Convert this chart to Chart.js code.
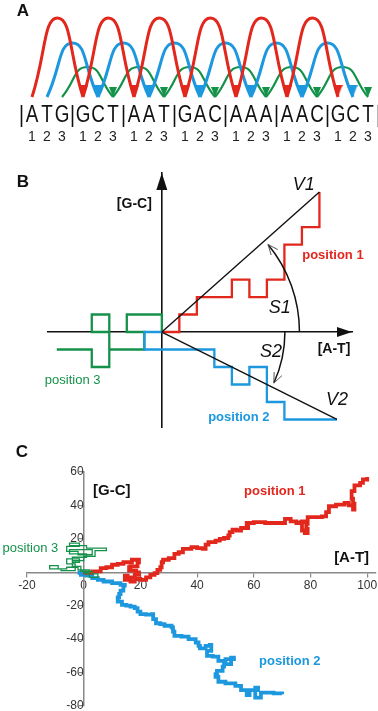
<!DOCTYPE html>
<html>
<head>
<meta charset="utf-8">
<script src="https://cdn.jsdelivr.net/npm/chart.js@4.4.1/dist/chart.umd.min.js"></script>
<style>
  html, body { margin: 0; padding: 0; background: #fff; }
  body { width: 378px; height: 711px; position: relative; overflow: hidden; }
  canvas { position: absolute; left: 0; }
  #chartA { top: 0; }
  #chartB { top: 170px; }
  #chartC { top: 430px; }
</style>
</head>
<body>
<canvas id="chartA" width="378" height="170"></canvas>
<canvas id="chartB" width="378" height="260"></canvas>
<canvas id="chartC" width="378" height="281"></canvas>
<script>
// ---- data ----
// A: the coding sequence, split in codons
const codons = ["ATG", "GCT", "AAT", "GAC", "AAA", "AAC", "GCT"];
const codonPositions = ["1", "2", "3"];

// B: toy walks, one unit step per codon [A-T, G-C]
const walk1B = [[0, 0], [1, 0], [1, 1], [2, 1], [2, 2], [4, 2], [4, 3], [5, 3], [5, 2], [6, 2], [6, 3], [7, 3], [7, 5], [8, 5], [8, 6], [9, 6], [9, 8]];
const walk2B = [[0, 0], [-1, 0], [-1, -1], [3, -1], [3, -2], [4, -2], [4, -3], [5, -3], [5, -2], [6, -2], [6, -4], [7, -4], [7, -5], [10, -5]];
const walk3B = [[0, 0], [0, 1], [-2, 1], [-2, 0], [-1, 0], [-1, -1], [-3, -1], [-3, 1], [-4, 1], [-4, 0], [-3, 0], [-3, -2], [-4, -2], [-4, -1], [-6, -1]];

const walk1C = [[0, 0], [0.5, -0.3], [3, 0.5], [6, 2.5], [8, 3], [10, 4.5], [12, 5], [14, 6], [17, 7.5], [19.5, 6], [19, 3.5], [16.5, 3], [16, 1], [18.5, 0], [19.5, -1.5], [18, -3], [15.5, -2], [14.5, -4.5], [16.5, -5.5], [18, -4], [20, -4.5], [22, -3], [23.5, -1.5], [25, -0.5], [26, 1.5], [27, 3], [27.5, 6], [28, 7.5], [30, 8.5], [32, 11], [33.5, 12], [35, 14], [38, 15], [40, 14.5], [42, 14], [43, 16.5], [44, 18], [46.5, 19], [48, 20], [49.5, 20.5], [51, 22], [51.5, 24], [52.5, 25.5], [54, 25], [55.5, 26.5], [58, 27.5], [57.5, 29.5], [60, 30], [64, 29.5], [68, 29.5], [70, 29.5], [71, 32], [73, 30.5], [75, 29.5], [76.5, 30], [78, 30.5], [77, 25], [78, 23.5], [79, 26], [78.5, 29], [79, 33], [82, 33], [84, 33.5], [85.5, 36], [86.5, 39.5], [89, 40.5], [92, 41.5], [93.5, 40], [95, 37.5], [95.5, 41], [95, 44], [94.5, 48.5], [95.5, 52], [97.5, 53.5], [98.5, 55.5], [100, 57]];
const walk2C = [[0, 0], [-1.5, -0.3], [-1, -1.5], [1, -2], [3, -3.5], [5, -4.5], [7, -5.5], [10, -6.5], [13, -7.5], [14.5, -8], [14, -11], [13, -13], [12.5, -15], [12, -17.5], [13.5, -19.5], [15, -20], [16.5, -20.5], [18, -21.5], [19, -23.5], [20, -25], [22, -25.3], [24, -25], [24.5, -28], [25.5, -30.5], [27, -31], [28.5, -32], [31, -33], [31.5, -35.5], [32, -38], [34.5, -38.5], [37, -40], [39.5, -42], [40.5, -44], [41, -45.5], [43, -44], [44.5, -43.5], [45, -47], [43.5, -50], [45.5, -50.5], [47.5, -53], [50, -52], [53, -51], [52, -55], [49.5, -56.5], [49, -59], [47, -61], [46.5, -62.5], [47.5, -65.5], [50, -66.5], [53.5, -68], [55.5, -70.5], [57.5, -73.5], [58.5, -70.5], [61.5, -69], [60.5, -72], [60.5, -75], [62.5, -72], [65, -72], [67, -72.5], [70, -73]];
const walk3C = [[0, 0], [2, 0], [2, 1.5], [-2, 1.5], [-2, 3], [-6, 3], [-6, 2], [-9, 2], [-9, 4], [-12, 4], [-12, 2], [-8, 2], [-8, 1], [-3, 1], [-3, 5], [-6, 5], [-6, 8], [-1.5, 8], [-1.5, 6], [-4, 6], [-4, 9], [1, 9], [1, 11], [-5, 11], [-5, 13.5], [3, 13.5], [3, 10.5], [-2, 10.5], [-2, 12.5], [-6, 12.5], [-6, 15.5], [-1.5, 15.5], [-1.5, 17.5], [-5, 17.5], [-5, 16], [1, 16], [1, 14.5], [8, 14.5], [8, 13], [4, 13], [4, 9.5], [0, 9.5], [0, 7], [-4, 7], [-4, 3.5], [-1, 3.5], [-1, 0.5], [3, 0.5], [3, -1], [5, -1], [5, -3], [2, -3], [2, -1], [0, -1]];

const xTicksC = [-20, 0, 20, 40, 60, 80, 100];
const yTicksC = [-80, -60, -40, -20, 20, 40, 60];

// ---- styles ----
const RED = "#e2271d";
const BLUE = "#1d98de";
const GREEN = "#14924a";
const FONT = '"Liberation Sans", Arial, sans-serif';

Chart.defaults.font.family = FONT;
Chart.defaults.animation = false;
Chart.defaults.layout.autoPadding = false;
Chart.defaults.plugins.legend.display = false;
Chart.defaults.plugins.tooltip.enabled = false;

const toXY = (arr) => arr.map(([x, y]) => ({ x, y }));

function drawTexts(chart, labels) {
    const { ctx, scales } = chart;
    ctx.save();
    ctx.textBaseline = "middle";
    labels.forEach((l) => {
        const px = l.px ? l.px[0] : scales.x.getPixelForValue(l.at[0]);
        const py = l.px ? l.px[1] : scales.y.getPixelForValue(l.at[1]);
        ctx.font = l.font;
        ctx.fillStyle = l.color || "#111";
        ctx.textAlign = l.align || "center";
        ctx.fillText(l.text, px, py);
    });
    ctx.restore();
}

// ---- panel A ----
const CODON_STEP = 3.4;
const ntPos = (codon, pos) => codon * CODON_STEP + pos;
const arcColors = [RED, BLUE, GREEN];
const arcHeights = [7.9, 5.4, 3.0];
const arcWidths = [3, 3, 2.2];

function arrowHead(color, w, h) {
    // tip sits at the centre of the image, so it lands on the data point
    const c = document.createElement("canvas");
    c.width = w;
    c.height = h * 2;
    const g = c.getContext("2d");
    g.fillStyle = color;
    g.beginPath();
    g.moveTo(0, 0);
    g.lineTo(w, 0);
    g.lineTo(w / 2, h);
    g.closePath();
    g.fill();
    return c;
}
const arrowImgs = [arrowHead(RED, 9, 12), arrowHead(BLUE, 9, 12), arrowHead(GREEN, 8, 10)];

const datasetsA = [];
codonPositions.forEach((label, j) => {
    for (let k = 0; k < codons.length - 1; k++) {
        const x0 = ntPos(k, j);
        const x1 = ntPos(k + 1, j);
        datasetsA.push({
            data: [{ x: x0, y: 0 }, { x: (x0 + x1) / 2, y: arcHeights[j] }, { x: x1, y: 0 }],
            borderColor: arcColors[j],
            borderWidth: arcWidths[j],
            tension: 0.55,
            pointStyle: arrowImgs[j],
            pointRadius: (c) => (c.dataIndex === 2 ? 5 : 0),
        });
    }
});

const sequenceText = {
    id: "sequenceText",
    afterDraw(chart) {
        const { ctx, scales: { x, y } } = chart;
        const yLetters = y.getPixelForValue(-1.8);
        const yDigits = y.getPixelForValue(-4.0);
        ctx.save();
        ctx.textAlign = "center";
        ctx.textBaseline = "middle";
        codons.forEach((codon, k) => {
            [...codon].forEach((ch, j) => {
                const px = x.getPixelForValue(ntPos(k, j));
                ctx.save();
                ctx.translate(px, yLetters);
                ctx.scale(0.82, 1);
                ctx.fillStyle = "#111";
                ctx.font = "23px " + FONT;
                ctx.fillText(ch, 0, 1);
                ctx.restore();
                ctx.font = "14px " + FONT;
                ctx.fillStyle = "#222";
                ctx.fillText(codonPositions[j], px, yDigits);
            });
        });
        // codon separators
        ctx.strokeStyle = "#111";
        ctx.lineWidth = 1.6;
        for (let k = 0; k <= codons.length; k++) {
            const bx = Math.round(x.getPixelForValue(ntPos(k, 0) - 0.75)) + 0.5;
            ctx.beginPath();
            ctx.moveTo(bx, yLetters - 10);
            ctx.lineTo(bx, yLetters + 12);
            ctx.stroke();
        }
        ctx.restore();
        drawTexts(chart, [{ text: "A", px: [23, 11], font: "bold 17px " + FONT }]);
    },
};

new Chart(document.getElementById("chartA"), {
    type: "line",
    data: { datasets: datasetsA },
    options: {
        responsive: false,
        layout: { padding: 0 },
        scales: {
            x: { type: "linear", display: false, min: -32 / 15, max: 346 / 15 },
            y: { display: false, min: -7.3, max: 9.7 },
        },
    },
    plugins: [sequenceText],
});

// ---- panel B ----
const angleMarks = [
    { r: 7.86, to: 39.5 },
    { r: 7.03, to: -24.5 },
];

const schemeDecor = {
    id: "schemeDecor",
    afterDraw(chart) {
        const { ctx, chartArea, scales: { x, y } } = chart;
        const cx = x.getPixelForValue(0);
        const cy = y.getPixelForValue(0);
        ctx.save();
        // axis arrowheads
        ctx.fillStyle = "#111";
        ctx.beginPath();
        ctx.moveTo(chartArea.right, cy);
        ctx.lineTo(chartArea.right - 15, cy - 5);
        ctx.lineTo(chartArea.right - 15, cy + 5);
        ctx.closePath();
        ctx.fill();
        ctx.beginPath();
        ctx.moveTo(cx, chartArea.top);
        ctx.lineTo(cx - 5.5, chartArea.top + 17);
        ctx.lineTo(cx + 5.5, chartArea.top + 17);
        ctx.closePath();
        ctx.fill();
        // angle arcs S1, S2
        angleMarks.forEach((m) => {
            const r = x.getPixelForValue(m.r) - cx;
            const t = (m.to * Math.PI) / 180;
            ctx.strokeStyle = "#111";
            ctx.lineWidth = 1.5;
            ctx.beginPath();
            ctx.arc(cx, cy, r, 0, -t, m.to > 0);
            ctx.stroke();
            const tipX = cx + r * Math.cos(t);
            const tipY = cy - r * Math.sin(t);
            const s = m.to > 0 ? 1 : -1;
            const dx = -s * Math.sin(t);
            const dy = -s * Math.cos(t);
            ctx.strokeStyle = "#555";
            ctx.lineWidth = 1;
            [-0.4, 0.4].forEach((a) => {
                const ex = dx * Math.cos(a) - dy * Math.sin(a);
                const ey = dx * Math.sin(a) + dy * Math.cos(a);
                ctx.beginPath();
                ctx.moveTo(tipX, tipY);
                ctx.lineTo(tipX - ex * 11, tipY - ey * 11);
                ctx.stroke();
            });
        });
        ctx.restore();
        drawTexts(chart, [
            { text: "B", px: [23, 12], font: "bold 17px " + FONT },
            { text: "[G-C]", at: [-1.57, 7.31], font: "bold 14px " + FONT },
            { text: "[A-T]", at: [9.83, -0.97], font: "bold 14px " + FONT },
            { text: "V1", at: [8.11, 8.4], font: "italic 18px " + FONT },
            { text: "V2", at: [10.0, -3.89], font: "italic 18px " + FONT },
            { text: "S1", at: [6.74, 1.37], font: "italic 18px " + FONT },
            { text: "S2", at: [6.23, -1.14], font: "italic 18px " + FONT },
            { text: "position 1", at: [9.77, 4.4], font: "bold 13px " + FONT, color: RED },
            { text: "position 2", at: [4.4, -4.91], font: "bold 13px " + FONT, color: BLUE },
            { text: "position 3", at: [-5.09, -2.74], font: "13px " + FONT, color: GREEN },
        ]);
    },
};

const walkLine = (data, color, width) => ({
    data: toXY(data),
    borderColor: color,
    borderWidth: width,
    pointRadius: 0,
});

new Chart(document.getElementById("chartB"), {
    type: "line",
    data: {
        datasets: [
            walkLine([walk1B[0], walk1B[walk1B.length - 1]], "#111", 1.4),
            walkLine([walk2B[0], walk2B[walk2B.length - 1]], "#111", 1.4),
            walkLine(walk1B, RED, 2.3),
            walkLine(walk2B, BLUE, 2.3),
            walkLine(walk3B, GREEN, 2.3),
        ],
    },
    options: {
        responsive: false,
        layout: { padding: { left: 48, right: 26, top: 3, bottom: 3 } },
        scales: {
            x: {
                type: "linear", min: -6.5, max: 10.86, position: { y: 0 },
                grid: { display: false }, ticks: { display: false },
                border: { display: true, color: "#111", width: 1.6 },
            },
            y: {
                type: "linear", min: -5.43, max: 9.09, position: { x: 0 },
                grid: { display: false }, ticks: { display: false },
                border: { display: true, color: "#111", width: 1.6 },
            },
        },
    },
    plugins: [schemeDecor],
});

// ---- panel C ----
const noPad = (s) => {
    s.paddingLeft = 0;
    s.paddingRight = 0;
    s.paddingTop = 0;
    s.paddingBottom = 0;
};

const walkLabels = {
    id: "walkLabels",
    afterDraw(chart) {
        drawTexts(chart, [
            { text: "C", px: [22, 22], font: "bold 17px " + FONT },
            { text: "[G-C]", at: [9.9, 48.5], font: "bold 15px " + FONT },
            { text: "[A-T]", at: [94.5, 8.4], font: "bold 15px " + FONT },
            { text: "position 1", at: [67.4, 48.5], font: "bold 13px " + FONT, color: RED },
            { text: "position 2", at: [72.7, -53.3], font: "bold 13px " + FONT, color: BLUE },
            { text: "position 3", at: [-28.6, 14.4], font: "13px " + FONT, color: GREEN, align: "left" },
        ]);
    },
};

const axisC = {
    grid: { display: true, drawOnChartArea: false, drawTicks: true, tickLength: 4, color: "#888", lineWidth: 1.2 },
    border: { display: true, color: "#888", width: 1.5 },
    afterFit: noPad,
};

new Chart(document.getElementById("chartC"), {
    type: "line",
    data: {
        datasets: [
            walkLine(walk3C, GREEN, 1.3),
            { ...walkLine(walk1C, RED, 3.8), stepped: true },
            { ...walkLine(walk2C, BLUE, 3.8), stepped: true },
        ],
    },
    options: {
        responsive: false,
        layout: { padding: { left: 27, right: 2, top: 42, bottom: 5 } },
        scales: {
            x: {
                ...axisC,
                type: "linear", min: -20, max: 103.1, position: { y: 0 },
                afterBuildTicks: (s) => { s.ticks = xTicksC.map((v) => ({ value: v })); },
                ticks: { padding: 2, color: "#333", font: { size: 12 } },
            },
            y: {
                ...axisC,
                type: "linear", min: -80, max: 60, position: { x: 0 },
                afterBuildTicks: (s) => { s.ticks = yTicksC.map((v) => ({ value: v })); },
                ticks: { padding: 1, color: "#333", font: { size: 12 } },
            },
        },
    },
    plugins: [walkLabels],
});
</script>
</body>
</html>
